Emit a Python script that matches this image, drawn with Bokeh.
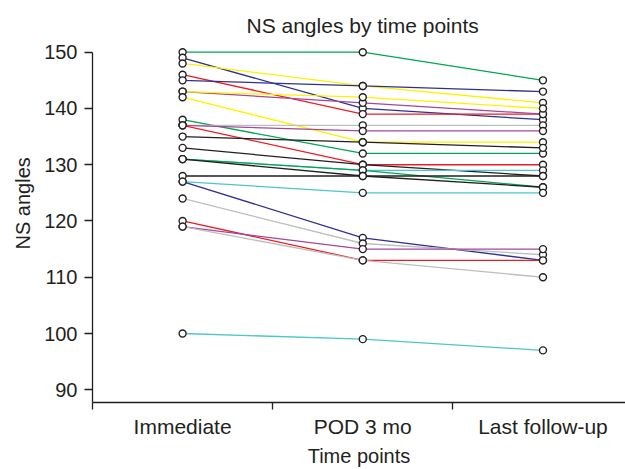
from bokeh.plotting import figure
from bokeh.models import Range1d, FixedTicker, ColumnDataSource, Title
from bokeh.embed import file_html
from bokeh.resources import INLINE

# ---- data ----
time_points = ["Immediate", "POD 3 mo", "Last follow-up"]
immediate = [150, 149, 148, 146, 145, 143, 143, 142, 138, 137, 137, 137, 135,
             133, 131, 131, 131, 128, 127, 127, 124, 120, 119, 119, 100]
pod_3_mo = [150, 140, 144, 139, 144, 141, 142, 134, 132, 137, 136, 130, 134,
            130, 129, 129, 128, 128, 125, 117, 116, 113, 115, 113, 99]
last_follow_up = [145, 138, 141, 139, 143, 139, 140, 134, 132, 137, 136, 130, 133,
                  128, 129, 126, 126, 128, 125, 113, 114, 113, 115, 110, 97]
y_ticks = [90, 100, 110, 120, 130, 140, 150]

# ---- styles ----
GREEN, NAVY, YELLOW, RED = "#00a651", "#2e3192", "#fff200", "#ed1c24"
PURPLE, GRAY, BLACK, CYAN = "#a3479b", "#bcbec0", "#231f20", "#4cc6cd"
line_colors = [GREEN, NAVY, YELLOW, RED, NAVY, PURPLE, YELLOW, YELLOW, GREEN,
               GRAY, PURPLE, RED, BLACK, BLACK, CYAN, GREEN, BLACK, BLACK, CYAN,
               NAVY, GRAY, RED, PURPLE, GRAY, CYAN]
FONT = "Liberation Sans"
TXT = "#231f20"

xpos = [i + 0.5 for i in range(len(time_points))]
series = list(zip(immediate, pod_3_mo, last_follow_up))

p = figure(width=625, height=469, output_backend="svg", toolbar_location=None,
           x_range=Range1d(0, 2.958), y_range=Range1d(87.74, 151.19),
           min_border_left=92, min_border_right=0, min_border_top=45,
           min_border_bottom=66, title="NS angles by time points")
p.title.align = "left"
p.title.offset = 154
p.title.standoff = 18
p.title.text_font = FONT
p.title.text_font_size = "21px"
p.title.text_font_style = "normal"
p.title.text_color = TXT
p.outline_line_color = None
p.xgrid.visible = False
p.ygrid.visible = False

lines_src = ColumnDataSource(dict(xs=[xpos] * len(series),
                                  ys=[list(s) for s in series],
                                  color=line_colors))
p.multi_line(xs="xs", ys="ys", line_color="color", line_width=1.3, source=lines_src)

pts_x, pts_y = [], []
for s in series:
    for xv, yv in zip(xpos, s):
        pts_x.append(xv)
        pts_y.append(yv)
p.scatter(pts_x, pts_y, marker="circle", size=7, fill_color="white",
          line_color=BLACK, line_width=1.4)

# x axis
xa = p.xaxis[0]
xa.ticker = FixedTicker(ticks=xpos, minor_ticks=[0, 1, 2, 3])
xa.major_label_overrides = {xv: name for xv, name in zip(xpos, time_points)}
xa.major_tick_out = 0
xa.major_tick_in = 0
xa.minor_tick_out = 7
xa.minor_tick_in = 0
xa.minor_tick_line_color = BLACK
xa.minor_tick_line_width = 1.3
xa.axis_line_color = BLACK
xa.axis_line_width = 1.3
xa.major_label_standoff = 5
xa.major_label_text_font = FONT
xa.major_label_text_font_size = "21px"
xa.major_label_text_color = TXT
xa.axis_label = "Time points"
xa.axis_label_text_font = FONT
xa.axis_label_text_font_size = "20px"
xa.axis_label_text_font_style = "normal"
xa.axis_label_text_color = TXT
xa.axis_label_standoff = 4

# y axis
ya = p.yaxis[0]
ya.ticker = FixedTicker(ticks=y_ticks, minor_ticks=[])
ya.bounds = (87.74, 150)
ya.major_tick_out = 8
ya.major_tick_in = 0
ya.minor_tick_out = 0
ya.minor_tick_in = 0
ya.major_tick_line_color = BLACK
ya.major_tick_line_width = 1.3
ya.axis_line_color = BLACK
ya.axis_line_width = 1.3
ya.major_label_standoff = 7
ya.major_label_text_font = FONT
ya.major_label_text_font_size = "20px"
ya.major_label_text_color = TXT

# y axis title as a left-side title, slightly above the frame centre
p.add_layout(Title(text="NS angles", align="left", offset=153, standoff=15,
                   text_font=FONT, text_font_size="20px",
                   text_font_style="normal", text_color=TXT), "left")

open("out.html", "w").write(file_html(p, INLINE))
